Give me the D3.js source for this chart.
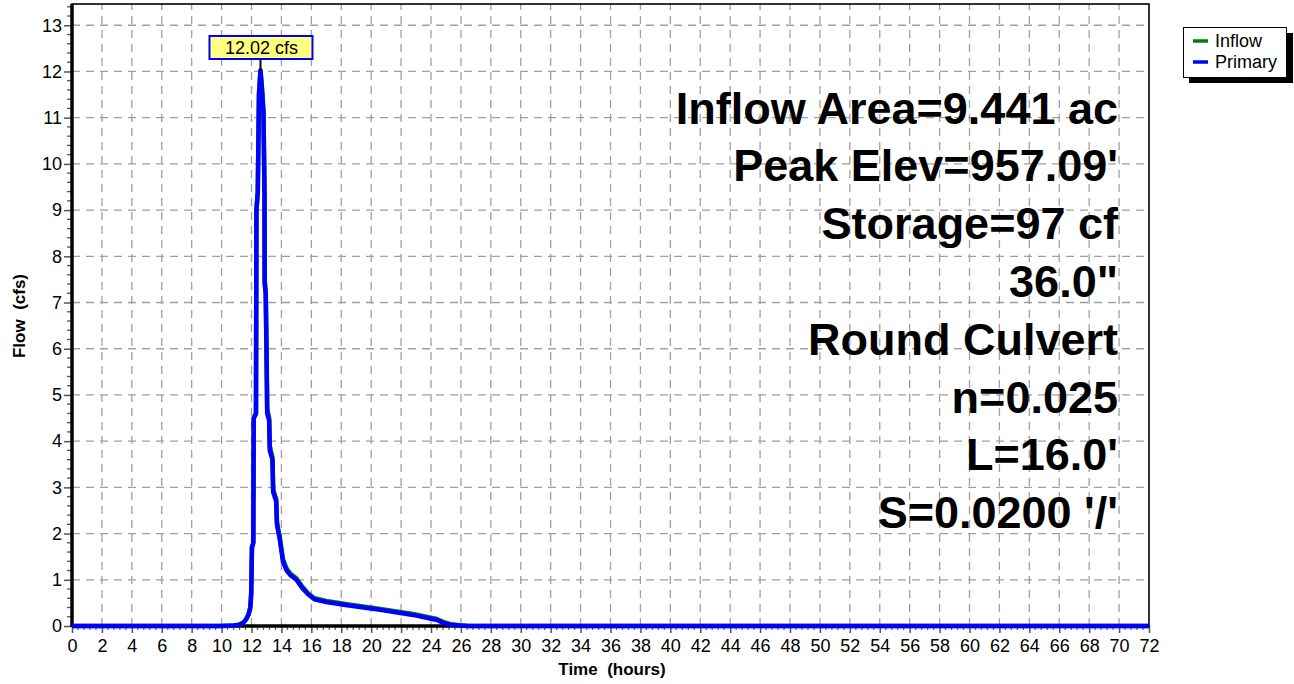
<html>
<head>
<meta charset="utf8">
<title>Hydrograph</title>
<style>
  body { margin: 0; background: #fff; }
  text { font-family: "Liberation Sans", Arial, sans-serif; }
  .grid line { stroke: #a0a0a0; stroke-width: 1.3; stroke-dasharray: 8,6; }
  .axis .domain { display: none; }
  .axis .tick line { stroke: #555; stroke-width: 1.5; }
</style>
</head>
<body>
<svg width="1294" height="684"></svg>
<script src="https://d3js.org/d3.v7.min.js"></script>
<script>
// hours
var times = [0, 10.0, 10.8, 11.2, 11.45, 11.65, 11.8, 11.92, 11.98, 12.03, 12.12, 12.15, 12.3, 12.33, 12.42, 12.5, 12.6,
             12.7, 12.8, 12.87, 12.88, 12.95, 13.0, 13.05, 13.18, 13.22, 13.4, 13.45, 13.65, 13.7, 13.9, 14.1, 14.35,
             14.6, 15.0, 15.4, 15.8, 16.2, 17.0, 18.4, 20.6, 22.8, 24.4, 24.8, 25.3, 25.9, 26.5, 72];
// cfs
var inflowFlow = [0, 0, 0.01, 0.03, 0.07, 0.15, 0.25, 0.4, 0.7, 1.7, 1.8, 4.5, 4.6, 9.0, 9.4, 11.5, 12.02,
                  11.65, 11.15, 9.4, 7.5, 7.25, 6.1, 4.7, 4.5, 3.9, 3.65, 2.95, 2.75, 2.25, 1.9, 1.45, 1.24,
                  1.13, 1.03, 0.85, 0.7, 0.6, 0.54, 0.47, 0.37, 0.26, 0.15, 0.09, 0.04, 0.015, 0, 0];
var primaryFlow = [0, 0, 0.01, 0.03, 0.07, 0.15, 0.25, 0.4, 0.7, 1.7, 1.8, 4.5, 4.6, 9.0, 9.4, 11.5, 12.02,
                   11.6, 11.1, 9.3, 7.4, 7.2, 6.0, 4.6, 4.45, 3.8, 3.6, 2.9, 2.7, 2.2, 1.86, 1.4, 1.2,
                   1.1, 1.0, 0.82, 0.68, 0.58, 0.52, 0.45, 0.35, 0.24, 0.13, 0.07, 0.03, 0.01, 0, 0];
var xTicks = d3.range(0, 73, 2);
var yTicks = d3.range(0, 14, 1);
var peakLabel = "12.02 cfs";
var peakTime = 12.6, peakFlow = 12.02;
var notes = ["Inflow Area=9.441 ac", "Peak Elev=957.09'", "Storage=97 cf", "36.0\"",
             "Round Culvert", "n=0.025", "L=16.0'", "S=0.0200 '/'"];
var seriesNames = ["Inflow", "Primary"];
var seriesColors = ["#008000", "#0000ff"];

var svg = d3.select("svg");
var plotL = 72, plotR = 1149, plotT = 4, plotB = 626;

var x = d3.scaleLinear().domain([0, 72]).range([plotL, plotR]);
var y = d3.scaleLinear().domain([0, 13.46]).range([plotB, plotT]);

// grid
var grid = svg.append("g").attr("class", "grid");
grid.selectAll("line.v").data(xTicks.slice(1, -1)).enter().append("line")
    .attr("class", "v")
    .attr("x1", d => x(d)).attr("x2", d => x(d))
    .attr("y1", plotB).attr("y2", plotT);
grid.selectAll("line.h").data(yTicks.slice(1)).enter().append("line")
    .attr("class", "h")
    .attr("x1", plotL).attr("x2", plotR)
    .attr("y1", d => y(d)).attr("y2", d => y(d));

// notes
svg.append("g").selectAll("text").data(notes).enter().append("text")
    .attr("x", 1118)
    .attr("y", (d, i) => 123.5 + i * 57.8)
    .attr("text-anchor", "end")
    .style("font-size", "45px")
    .style("font-weight", "bold")
    .text(d => d);

// minor ticks
var minorX = d3.range(0, 72.01, 0.4).filter(d => Math.abs(d / 2 - Math.round(d / 2)) > 0.01);
svg.append("g").selectAll("line").data(minorX).enter().append("line")
    .attr("x1", d => x(d)).attr("x2", d => x(d))
    .attr("y1", plotB).attr("y2", plotB + 4)
    .attr("stroke", "#666").attr("stroke-width", 1.3);
var minorY = d3.range(0, 13.41, 0.2).filter(d => Math.abs(d - Math.round(d)) > 0.01);
svg.append("g").selectAll("line").data(minorY).enter().append("line")
    .attr("x1", plotL - 5).attr("x2", plotL)
    .attr("y1", d => y(d)).attr("y2", d => y(d))
    .attr("stroke", "#555").attr("stroke-width", 1.3);

// axes
var xAxis = svg.append("g").attr("class", "axis")
    .attr("transform", "translate(0," + plotB + ")")
    .call(d3.axisBottom(x).tickValues(xTicks).tickSize(7).tickPadding(6).tickFormat(d3.format("d")));
var yAxis = svg.append("g").attr("class", "axis")
    .attr("transform", "translate(" + plotL + ",0)")
    .call(d3.axisLeft(y).tickValues(yTicks).tickSize(8).tickPadding(2).tickFormat(d3.format("d")));
[xAxis, yAxis].forEach(function(a) {
    a.attr("font-family", null).attr("font-size", null);
    a.selectAll("text").style("font-size", "18px").attr("fill", "#000");
});

// frame
svg.append("rect").attr("x", plotL).attr("y", plotT)
    .attr("width", plotR - plotL).attr("height", plotB - plotT)
    .attr("fill", "none").attr("stroke", "#000").attr("stroke-width", 1.6);
svg.append("line").attr("x1", plotL).attr("x2", plotL).attr("y1", plotT).attr("y2", plotB + 1)
    .attr("stroke", "#000").attr("stroke-width", 3.5);
svg.append("line").attr("x1", plotL).attr("x2", plotR).attr("y1", plotB).attr("y2", plotB)
    .attr("stroke", "#000").attr("stroke-width", 3.5);

// series
var line = d3.line().x(d => x(d[0])).y(d => y(d[1]));
var series = [inflowFlow, primaryFlow];
series.forEach(function(vals, i) {
    svg.append("path")
        .datum(times.map((t, j) => [t, vals[j]]))
        .attr("d", line)
        .attr("fill", "none")
        .attr("stroke", seriesColors[i])
        .attr("stroke-width", 4.5)
        .attr("stroke-linejoin", "round");
});

// peak label
svg.append("line")
    .attr("x1", x(peakTime)).attr("x2", x(peakTime))
    .attr("y1", 59).attr("y2", y(peakFlow))
    .attr("stroke", "#000").attr("stroke-width", 2);
var lbl = svg.append("g");
lbl.append("rect").attr("x", x(peakTime) - 51).attr("y", 36).attr("width", 103).attr("height", 23)
    .attr("fill", "#ffff80").attr("stroke", "#0000ff").attr("stroke-width", 2);
lbl.append("text").attr("x", x(peakTime) + 1).attr("y", 54).attr("text-anchor", "middle")
    .style("font-size", "18px").text(peakLabel);

// axis titles
svg.append("text").attr("x", 612).attr("y", 675).attr("text-anchor", "middle")
    .style("font-size", "17px").style("font-weight", "bold").style("white-space", "pre")
    .text("Time  (hours)");
svg.append("text").attr("transform", "translate(25,316) rotate(-90)").attr("text-anchor", "middle")
    .style("font-size", "17px").style("font-weight", "bold").style("white-space", "pre")
    .text("Flow  (cfs)");

// legend
var lg = svg.append("g");
lg.append("rect").attr("x", 1189).attr("y", 33).attr("width", 104).attr("height", 50).attr("fill", "#000");
lg.append("rect").attr("x", 1183.5).attr("y", 27.5).attr("width", 103).attr("height", 50)
    .attr("fill", "#fff").attr("stroke", "#000").attr("stroke-width", 1);
seriesNames.forEach(function(name, i) {
    var ly = 41 + i * 21;
    lg.append("line").attr("x1", 1193).attr("x2", 1208).attr("y1", ly).attr("y2", ly)
        .attr("stroke", seriesColors[i]).attr("stroke-width", 3.5);
    lg.append("text").attr("x", 1215).attr("y", ly + 6).style("font-size", "18px").text(name);
});
</script>
</body>
</html>
